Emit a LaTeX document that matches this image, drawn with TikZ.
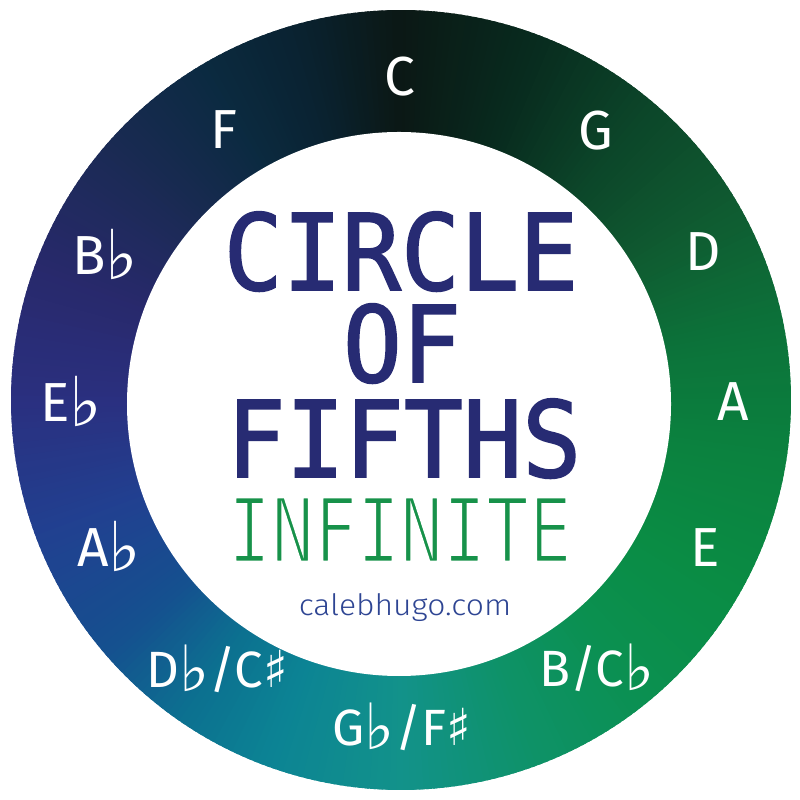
\documentclass[tikz,border=0pt]{standalone}
\usepackage{fontspec}
\newfontfamily\labfont{Fira Sans}
\newfontfamily\symfont{DejaVu Sans}
\newfontfamily\titlefont[FakeStretch=0.93,FakeBold=1.5]{DejaVu Sans Mono}
\newfontfamily\inffont[FakeStretch=0.8]{DejaVu Sans Mono}
\newfontfamily\webfont[FakeStretch=1.08]{Fira Sans Light}
\definecolor{s0}{HTML}{0B1815}
\definecolor{s20}{HTML}{082A1E}
\definecolor{s40}{HTML}{0C4529}
\definecolor{s60}{HTML}{0F5B31}
\definecolor{s80}{HTML}{0C733A}
\definecolor{s100}{HTML}{0B823F}
\definecolor{s120}{HTML}{0A8C44}
\definecolor{s140}{HTML}{0B9050}
\definecolor{s160}{HTML}{0E9268}
\definecolor{s180}{HTML}{12928A}
\definecolor{s200}{HTML}{0C8494}
\definecolor{s215}{HTML}{0C7090}
\definecolor{s230}{HTML}{15508F}
\definecolor{s250}{HTML}{214090}
\definecolor{s270}{HTML}{2A3080}
\definecolor{s290}{HTML}{28296C}
\definecolor{s310}{HTML}{1B2A55}
\definecolor{s330}{HTML}{0B2A40}
\definecolor{s345}{HTML}{0A2230}
\definecolor{titleblue}{HTML}{272B73}
\definecolor{infgreen}{HTML}{17924A}
\definecolor{webblue}{HTML}{2E4593}
\newcommand{\fl}{{\symfont\fontsize{1.25em}{1em}\selectfont\raisebox{-0.06em}{♭}}}
\newcommand{\shp}{{\symfont ♯}}
\newcommand{\thinstart}{\special{pdf:literal direct 2 Tr 2.6 w 1 1 1 RG}}
\newcommand{\thinend}{\special{pdf:literal direct 0 Tr}}
\tikzset{
  keylabel/.style={text=white, anchor=base, inner sep=0pt, text depth=0pt, font=\labfont\fontsize{55bp}{56bp}\selectfont},
  keypair/.style={keylabel, font=\labfont\fontsize{51bp}{52bp}\selectfont},
  titleline/.style={text=titleblue, anchor=base, inner sep=0pt, text height=77bp, text depth=0pt, font=\titlefont\fontsize{105.6bp}{106bp}\selectfont},
  infline/.style={text=infgreen, anchor=base, inner sep=0pt, text height=65bp, text depth=0pt, font=\inffont\fontsize{89.2bp}{90bp}\selectfont},
  webline/.style={text=webblue, anchor=base, inner sep=0pt, font=\webfont\fontsize{29.5bp}{30bp}\selectfont}
}
\begin{document}
\begin{tikzpicture}[x=1bp,y=1bp]
\useasboundingbox (0,0) rectangle (800,800);
\fill[white] (0,0) rectangle (800,800);
\coordinate (O) at (401,400);
\foreach \a/\b/\ca/\cb in {0/20/s0/s20, 20/40/s20/s40, 40/60/s40/s60, 60/80/s60/s80, 80/100/s80/s100, 100/120/s100/s120, 120/140/s120/s140, 140/160/s140/s160, 160/180/s160/s180, 180/200/s180/s200, 200/215/s200/s215, 215/230/s215/s230, 230/250/s230/s250, 250/270/s250/s270, 270/290/s270/s290, 290/310/s290/s310, 310/330/s310/s330, 330/345/s330/s345, 345/360/s345/s0} {
  \pgfmathtruncatemacro\n{\b-\a-1}
  \foreach \k in {0,...,\n} {
    \pgfmathsetmacro\t{100*(\k+0.5)/(\b-\a)}
    \pgfmathsetmacro\sa{90-\a-\k+0.3}
    \pgfmathsetmacro\ea{90-\a-\k-1-0.3}
    \fill[\cb!\t!\ca] (O) -- ++(\sa:390) arc[start angle=\sa, end angle=\ea, radius=390bp] -- cycle;
  }
}
\fill[white] (399,396) circle[radius=272bp];
% key labels
\node[keylabel] (kC) at (400,704) {C};
\node[keylabel] (kG) at (596,650) {G};
\node[keylabel] (kD) at (703,529) {D};
\node[keylabel] (kA) at (733,379) {A};
\node[keylabel] (kE) at (705,233) {E};
\node[keypair] (kB) at (597,113) {B/C\fl};
\node[keypair] (kGb) at (402,54) {G\fl/F\shp};
\node[keypair] (kDb) at (217,112) {D\fl/C\shp};
\node[keylabel] (kAb) at (109,233) {A\fl};
\node[keylabel] (kEb) at (71,378) {E\fl};
\node[keylabel] (kBb) at (105,525) {B\fl};
\node[keylabel] (kF) at (224,651) {F};
% title
\node[titleline] (t1) at (401,510) {CIRCLE};
\node[titleline] (t2) at (402,418) {OF};
\node[titleline] (t3) at (404,323) {FIFTHS};
\node[webline] (t5) at (405,184) {calebhugo.com};
\node[infline] (t4) at (400,238) {\thinstart INFINITE\thinend};
\end{tikzpicture}
\end{document}
